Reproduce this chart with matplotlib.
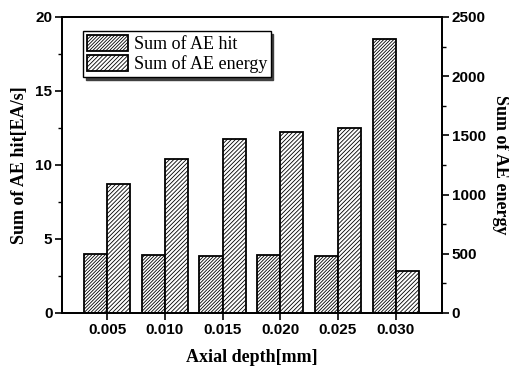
import matplotlib.pyplot as plt
from matplotlib.ticker import MultipleLocator

plt.rcParams['hatch.linewidth'] = 0.6

depth = [0.005, 0.010, 0.015, 0.020, 0.025, 0.030]
depth_labels = ['0.005', '0.010', '0.015', '0.020', '0.025', '0.030']
ae_hit = [4.0, 3.9, 3.85, 3.9, 3.85, 18.5]          # left axis
ae_energy = [1090, 1300, 1465, 1525, 1565, 350]     # right axis

fig = plt.figure(figsize=(5.09, 3.69), dpi=100)
ax = fig.add_axes([0.122, 0.152, 0.746, 0.802])
ax2 = ax.twinx()

w = 0.0020
b1 = ax.bar([d - w / 2 for d in depth], ae_hit, width=w, color='white',
            edgecolor='black', hatch='//////////', linewidth=1.3, label='Sum of AE hit')
b2 = ax2.bar([d + w / 2 for d in depth], ae_energy, width=w, color='white',
             edgecolor='black', hatch='////////', linewidth=1.3, label='Sum of AE energy')

ax.set_xlim(0.0011, 0.0340)
ax.set_ylim(0, 20)
ax2.set_ylim(0, 2500)
ax.set_xticks(depth)
ax.set_xticklabels(depth_labels)
ax.yaxis.set_major_locator(MultipleLocator(5))
ax.yaxis.set_minor_locator(MultipleLocator(2.5))
ax2.yaxis.set_major_locator(MultipleLocator(500))
ax2.yaxis.set_minor_locator(MultipleLocator(250))

for lab in ax.get_xticklabels() + ax.get_yticklabels() + ax2.get_yticklabels():
    lab.set_fontfamily('Liberation Sans')
    lab.set_fontweight('bold')
    lab.set_fontsize(11)

for a in (ax, ax2):
    for s in a.spines.values():
        s.set_linewidth(1.3)
ax.tick_params(axis='both', which='major', direction='out', length=5, width=1.2, pad=2)
ax.tick_params(axis='y', which='minor', direction='out', length=3, width=1)
ax2.tick_params(axis='y', which='major', direction='out', length=5, width=1.2, pad=2)
ax2.tick_params(axis='y', which='minor', direction='out', length=3, width=1)

label_font = dict(family='Liberation Serif', weight='bold', size=13)
ax.set_xlabel('Axial depth[mm]', labelpad=9, **label_font)
ax.set_ylabel('Sum of AE hit[EA/s]', labelpad=5, **label_font)
ax2.set_ylabel('Sum of AE energy', rotation=270, labelpad=17, **label_font)

leg = ax.legend([b1, b2], ['Sum of AE hit', 'Sum of AE energy'],
                loc='upper left', bbox_to_anchor=(0.055, 0.951),
                prop=dict(family='Liberation Serif', size=13),
                fancybox=False, shadow={'color': '0.25', 'alpha': 1}, framealpha=1,
                edgecolor='black', handlelength=2.3, handleheight=1.0,
                borderpad=0.2, labelspacing=0.1, handletextpad=0.3,
                borderaxespad=0)
leg.get_frame().set_linewidth(1.0)

fig.savefig('out.png', dpi=100)
